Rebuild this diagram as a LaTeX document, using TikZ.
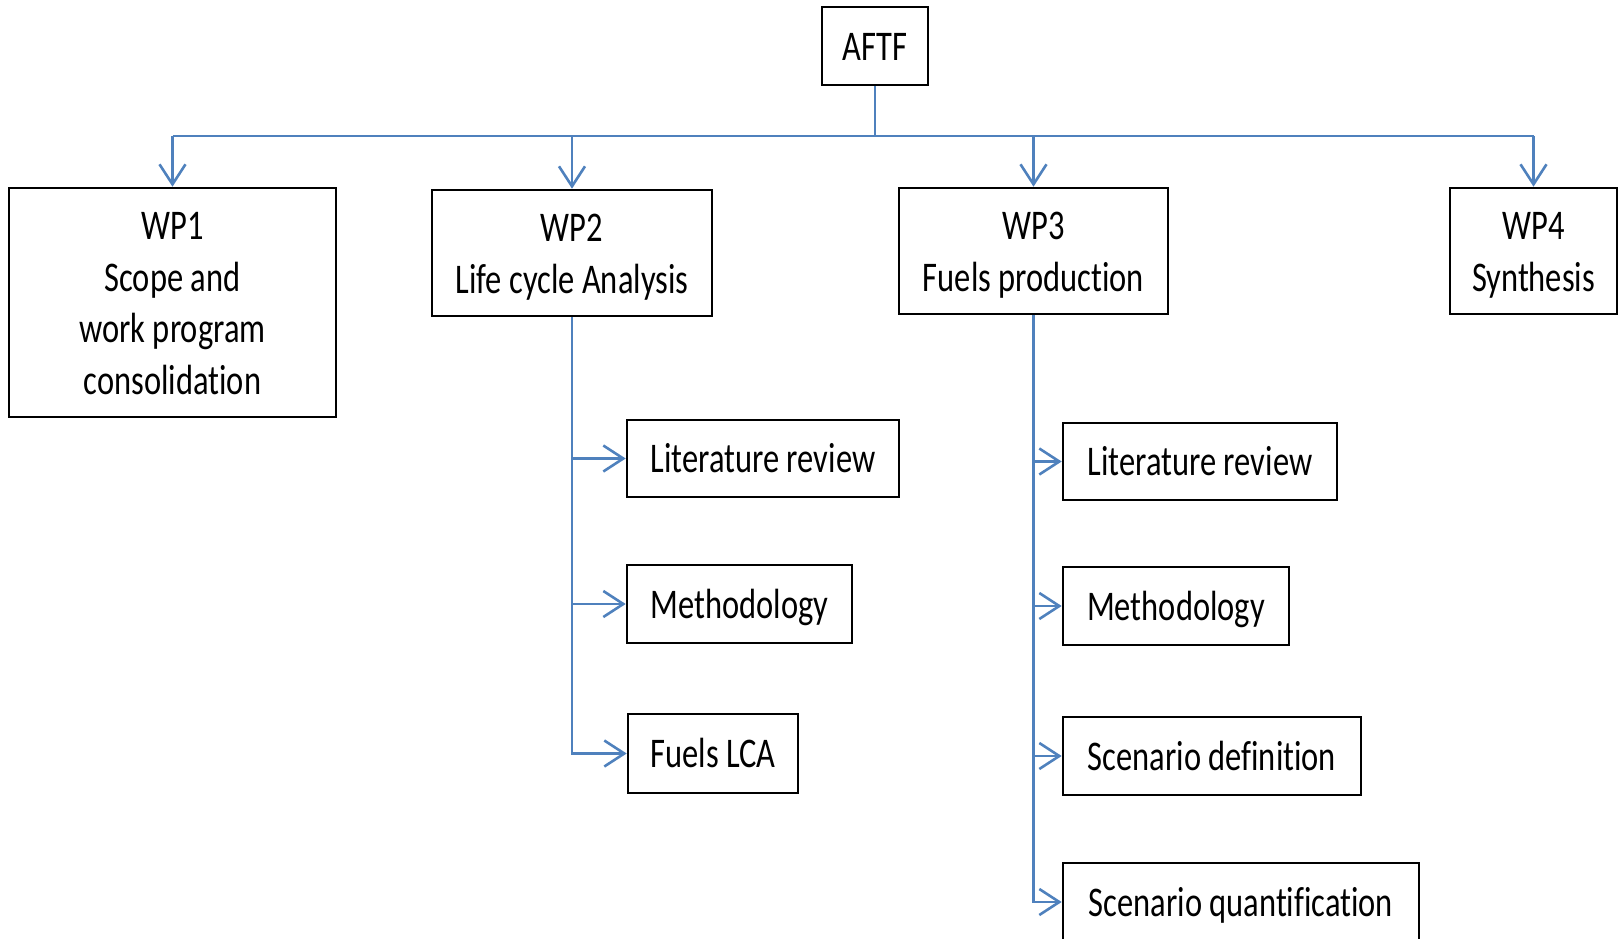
\documentclass[tikz,border=0pt]{standalone}
\usepackage{fontspec}
\setmainfont{Carlito}[Ligatures=NoCommon]
\usetikzlibrary{arrows.meta}
\definecolor{lnblue}{RGB}{79,129,189}
\newcommand\stx[1]{\raisebox{-4pt}[\height][\depth]{\scalebox{1}[1.3]{\begin{tabular}{@{}c@{}}#1\end{tabular}}}}
\tikzset{
  box/.style={draw=black, line width=2.6pt, fill=white, inner sep=0pt, align=center,
    font=\fontsize{32.5}{39.7}\selectfont},
  link/.style={draw=lnblue, line width=2.8pt},
  arr/.style={link, -{Straight Barb[length=20pt,width=26pt,line width=2.6pt]}},
}
\begin{document}
\begin{tikzpicture}[x=1pt,y=-1pt]
\useasboundingbox (0,0) rectangle (1619,939);
\clip (0,0) rectangle (1619,939);
\node[box, minimum width=106pt, minimum height=78pt] (aftf) at (875,46) {\stx{AFTF}};
\node[box, minimum width=327pt, minimum height=229pt] (wp1) at (172.5,302.5) {\stx{WP1\\Scope and\\work program\\consolidat\kern0pt ion}};
\node[box, minimum width=280pt, minimum height=126pt] (wp2) at (572,253) {\stx{WP2\\Life cycle Analysis}};
\node[box, minimum width=269pt, minimum height=126pt] (wp3) at (1033.5,251) {\stx{WP3\\Fuels production}};
\node[box, minimum width=167pt, minimum height=126pt] (wp4) at (1533.5,251) {\stx{WP4\\Synthesis}};
\node[box, minimum width=272pt, minimum height=77pt] (lr2) at (763,458.5) {\stx{Literature review}};
\node[box, minimum width=225pt, minimum height=78pt] (me2) at (739.5,604) {\stx{Methodology}};
\node[box, minimum width=170pt, minimum height=79pt] (lca) at (713,753.5) {\stx{Fuels LCA}};
\node[box, minimum width=274pt, minimum height=77pt] (lr3) at (1200,461.5) {\stx{Literature review}};
\node[box, minimum width=226pt, minimum height=78pt] (me3) at (1176,606) {\stx{Methodology}};
\node[box, minimum width=298pt, minimum height=78pt] (sd) at (1212,756) {\stx{Scenario definition}};
\node[box, minimum width=356pt, minimum height=78pt] (sq) at (1241,902) {\stx{Scenario quantificat\kern0pt ion}};
\coordinate (bus) at (875,136);
\draw[link] (aftf.south) -- (aftf.south |- bus);
\draw[link] (wp1.north |- bus) -- (wp4.north |- bus);
\foreach \w in {wp1,wp2,wp3,wp4}{
  \draw[arr] (\w.north |- bus) -- (\w.north);
}
\foreach \s in {lr2,me2,lca}{
  \draw[arr] (wp2.south) |- (\s.west);
}
\foreach \s in {lr3,me3,sd,sq}{
  \draw[arr] (wp3.south) |- (\s.west);
}
\end{tikzpicture}
\end{document}
